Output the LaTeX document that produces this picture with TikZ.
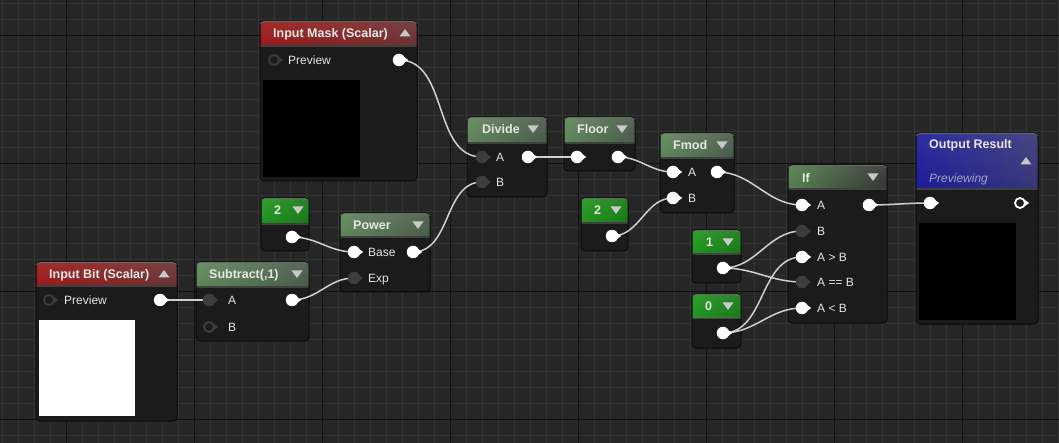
\documentclass[tikz,border=0pt]{standalone}
\usepackage{fontspec}
\setmainfont{Liberation Sans}
\usetikzlibrary{fadings}
\definecolor{bg}{HTML}{262626}
\definecolor{gridminor}{HTML}{343434}
\definecolor{gridmajor}{HTML}{111111}
\definecolor{body}{HTML}{1A1B1A}
\definecolor{edge}{HTML}{0B0B0B}
\definecolor{hilite}{HTML}{6A6A6A}
\definecolor{wirec}{HTML}{D0D0D0}
\definecolor{pindark}{HTML}{3C3C3C}
\definecolor{txt}{HTML}{E6E6E6}
\definecolor{tric}{HTML}{C8C8C8}
\definecolor{prevtxt}{HTML}{A2A2C4}
\definecolor{redL}{HTML}{9C1A1A}
\definecolor{redR}{HTML}{6A3232}
\definecolor{exL}{HTML}{5E8759}
\definecolor{exR}{HTML}{4A5A4A}
\definecolor{cnL}{HTML}{20961D}
\definecolor{cnR}{HTML}{187818}
\definecolor{ifL}{HTML}{547F4E}
\definecolor{ifR}{HTML}{343634}
\definecolor{blL}{HTML}{1C1C98}
\definecolor{blR}{HTML}{383878}
\pgfdeclarelayer{back}
\pgfdeclarelayer{wirelayer}
\pgfsetlayers{back,wirelayer,main}
\tikzset{
  nodebody/.style={fill=body, rounded corners=4pt, inner sep=0pt, outer sep=0pt, anchor=north west},
  title/.style={anchor=base west, inner sep=0pt, text=txt, font=\fontsize{12.5}{14}\selectfont\bfseries},
  pintext/.style={anchor=base west, inner sep=0pt, text=txt, font=\fontsize{12}{14}\selectfont},
  wire/.style={draw=wirec, line width=1.5pt},
  pinw/.style={circle, fill=white, inner sep=0pt, minimum size=12.5pt},
  pind/.style={circle, fill=pindark, inner sep=0pt, minimum size=12.5pt},
  pinh/.style={circle, draw=pindark, fill=body, line width=1.8pt, inner sep=0pt, minimum size=10pt},
  pinhw/.style={circle, draw=white, fill=body, line width=1.8pt, inner sep=0pt, minimum size=10pt},
}
% box: name, x1, y1, width, height, header height, left colour, right colour
\newcommand\uebox[8]{%
  \node[nodebody, minimum width=#4pt, minimum height=#5pt] (#1) at (#2,#3) {};
  \begin{scope}
    \clip[rounded corners=4pt] (#1.north west) rectangle (#1.south east);
    \shade[left color=#7, right color=#8] (#1.north west) rectangle ([yshift=-#6pt]#1.north east);
    \fill[white, fill opacity=0.08, path fading=south] (#1.north west) rectangle ([yshift=-#6pt]#1.north east);
    \fill[black!60, fill opacity=0.5] ([yshift=-#6pt]#1.north west) rectangle ([yshift=-#6pt-2pt]#1.north east);
  \end{scope}
  \draw[edge, line width=1pt, rounded corners=4pt] (#1.north west) rectangle (#1.south east);
  \begin{scope}
    \clip ([yshift=1pt,xshift=-1pt]#1.north west) rectangle ([yshift=-3pt,xshift=1pt]#1.north east);
    \draw[hilite, line width=0.8pt, rounded corners=4pt] ([yshift=-0.6pt]#1.north west) rectangle (#1.south east);
  \end{scope}
}
\newcommand\triDown[2]{\fill[tric] (#1,#2) ++(-5.5,-3.5) -- ++(11,0) -- ++(-5.5,7.5) -- cycle;}
\newcommand\triUp[2]{\fill[tric] (#1,#2) ++(-5.5,3.5) -- ++(11,0) -- ++(-5.5,-7.5) -- cycle;}
\newcommand\arrW[1]{\fill[white] ([xshift=5pt]#1.center) ++(0,3) -- ++(4.2,-3) -- ++(-4.2,-3) -- cycle;}
\newcommand\arrD[1]{\fill[pindark] ([xshift=5pt]#1.center) ++(0,3) -- ++(4.2,-3) -- ++(-4.2,-3) -- cycle;}
\newcommand\pinW[3]{\node[pinw] (#1) at (#2,#3) {}; \arrW{#1}}
\newcommand\pinD[3]{\node[pind] (#1) at (#2,#3) {}; \arrD{#1}}
\newcommand\pinH[3]{\node[pinh] (#1) at (#2,#3) {}; \arrD{#1}}
\newcommand\pinHW[3]{\node[pinhw] (#1) at (#2,#3) {}; \arrW{#1}}
\begin{document}
\begin{tikzpicture}[x=1pt,y=-1pt]
\useasboundingbox (0,0) rectangle (1059,443);
\begin{pgfonlayer}{back}
\fill[bg] (0,0) rectangle (1059,443);
\foreach \x in {2.5,18.5,...,1058.5} \draw[gridminor, line width=1pt] (\x,0) -- (\x,443);
\foreach \y in {3.5,19.5,...,442.5} \draw[gridminor, line width=1pt] (0,\y) -- (1059,\y);
\foreach \x in {66.5,194.5,...,1058.5} \draw[gridmajor, line width=1.2pt] (\x,0) -- (\x,443);
\foreach \y in {35.5,163.5,...,442.5} \draw[gridmajor, line width=1.2pt] (0,\y) -- (1059,\y);
% boxes
\uebox{mask}{260}{21}{157}{160}{24}{redL}{redR}
\uebox{bit}{36}{262}{141}{159}{23}{redL}{redR}
\uebox{sub}{196}{262}{113}{79}{24}{exL}{exR}
\uebox{ctwoa}{261}{198}{48}{53}{25}{cnL}{cnR}
\uebox{pow}{340}{213}{90}{79}{23}{exL}{exR}
\uebox{div}{467}{117}{80}{80}{25}{exL}{exR}
\uebox{floor}{564}{117}{71}{54}{25}{exL}{exR}
\uebox{fmod}{660}{133}{74}{80}{24}{exL}{exR}
\uebox{ctwob}{581}{198}{47}{53}{24}{cnL}{cnR}
\uebox{iff}{788}{165}{99}{158}{23}{ifL}{ifR}
\uebox{cone}{692}{230}{49}{53}{23}{cnL}{cnR}
\uebox{czero}{692}{294}{49}{54}{23}{cnL}{cnR}
\uebox{outr}{916}{133}{122}{191}{55}{blL}{blR}
% previews
\fill[black] (263,80) rectangle (360,177);
\fill[white] (39,320) rectangle (135,416);
\fill[black] (919,223) rectangle (1016,320);
\end{pgfonlayer}
% titles
\node[title] (mask-t) at (273,37.5) {Input Mask (Scalar)}; \triUp{405}{33}
\node[title] (bit-t) at (49,278.5) {Input Bit (Scalar)}; \triUp{164}{274}
\node[title] (sub-t) at (209,278.5) {Subtract(,1)}; \triDown{297}{274}
\node[title] (ctwoa-t) at (274,214.5) {2}; \triDown{298}{210}
\node[title] (pow-t) at (353,229.5) {Power}; \triDown{418}{225}
\node[title] (div-t) at (482,133.5) {Divide}; \triDown{533}{129}
\node[title] (floor-t) at (577,133.5) {Floor}; \triDown{622}{129}
\node[title] (fmod-t) at (673,149.5) {Fmod}; \triDown{722}{145}
\node[title] (ctwob-t) at (594,214.5) {2}; \triDown{616}{210}
\node[title] (iff-t) at (802,182.5) {If}; \triDown{873}{177}
\node[title] (cone-t) at (706,246.5) {1}; \triDown{728}{242}
\node[title] (czero-t) at (705,310.5) {0}; \triDown{728}{306}
\node[title] (outr-t) at (929,148.5) {Output Result}; \triUp{1026}{161}
\node[pintext, text=prevtxt, font=\fontsize{12}{14}\selectfont\itshape] (outr-p) at (929,182.5) {Previewing};
% pins
\pinH{mask-p}{274}{60} \pinW{mask-o}{399}{60}
\pinH{bit-p}{49}{300} \pinW{bit-o}{160}{300}
\pinD{sub-a}{209}{300} \pinH{sub-b}{209}{327} \pinW{sub-o}{292}{300}
\pinW{ctwoa-o}{292}{237}
\pinW{pow-base}{354}{252} \pinD{pow-exp}{354}{278} \pinW{pow-o}{413}{252}
\pinD{div-a}{482}{157} \pinD{div-b}{482}{182} \pinW{div-o}{528}{157}
\pinW{floor-i}{577}{157} \pinW{floor-o}{618}{157}
\pinW{fmod-a}{673}{172} \pinW{fmod-b}{673}{198} \pinW{fmod-o}{717}{172}
\pinW{ctwob-o}{612}{236}
\pinW{iff-a}{802}{205} \pinD{iff-b}{802}{231} \pinW{iff-gt}{802}{257} \pinD{iff-eq}{802}{282} \pinW{iff-lt}{802}{308} \pinW{iff-o}{869}{205}
\pinW{cone-o}{723}{268}
\pinW{czero-o}{723}{333}
\pinW{outr-i}{930}{203} \pinHW{outr-o}{1020}{203}
% pin labels
\node[pintext] (mask-pt) at (288,64.3) {Preview};
\node[pintext] (bit-pt) at (64,304.3) {Preview};
\node[pintext] (sub-at) at (228,304.3) {A};
\node[pintext] (sub-bt) at (228,331.3) {B};
\node[pintext] (pow-bt) at (368,256.3) {Base};
\node[pintext] (pow-et) at (368,282.3) {Exp};
\node[pintext] (div-at) at (496,161.3) {A};
\node[pintext] (div-bt) at (496,186.3) {B};
\node[pintext] (fmod-at) at (688,176.3) {A};
\node[pintext] (fmod-bt) at (688,202.3) {B};
\node[pintext] (iff-at) at (817,209.3) {A};
\node[pintext] (iff-bt) at (817,235.3) {B};
\node[pintext] (iff-gtt) at (817,261.3) {A > B};
\node[pintext] (iff-eqt) at (817,286.3) {A == B};
\node[pintext] (iff-ltt) at (817,312.3) {A < B};
% wires
\begin{pgfonlayer}{wirelayer}
\draw[wire] (mask-o.center) to[out=0,in=180] (div-a.center);
\draw[wire] (pow-o.center) to[out=0,in=180] (div-b.center);
\draw[wire] (ctwoa-o.center) to[out=0,in=180] (pow-base.center);
\draw[wire] (sub-o.center) to[out=0,in=180] (pow-exp.center);
\draw[wire] (bit-o.center) to[out=0,in=180] (sub-a.center);
\draw[wire] (div-o.center) to[out=0,in=180] (floor-i.center);
\draw[wire] (floor-o.center) to[out=0,in=180] (fmod-a.center);
\draw[wire] (ctwob-o.center) to[out=0,in=180] (fmod-b.center);
\draw[wire] (fmod-o.center) to[out=0,in=180] (iff-a.center);
\draw[wire] (cone-o.center) to[out=0,in=180] (iff-b.center);
\draw[wire] (cone-o.center) to[out=0,in=180] (iff-eq.center);
\draw[wire] (czero-o.center) to[out=0,in=180] (iff-gt.center);
\draw[wire] (czero-o.center) to[out=0,in=180] (iff-lt.center);
\draw[wire] (iff-o.center) to[out=0,in=180] (outr-i.center);
\end{pgfonlayer}
\end{tikzpicture}
\end{document}
